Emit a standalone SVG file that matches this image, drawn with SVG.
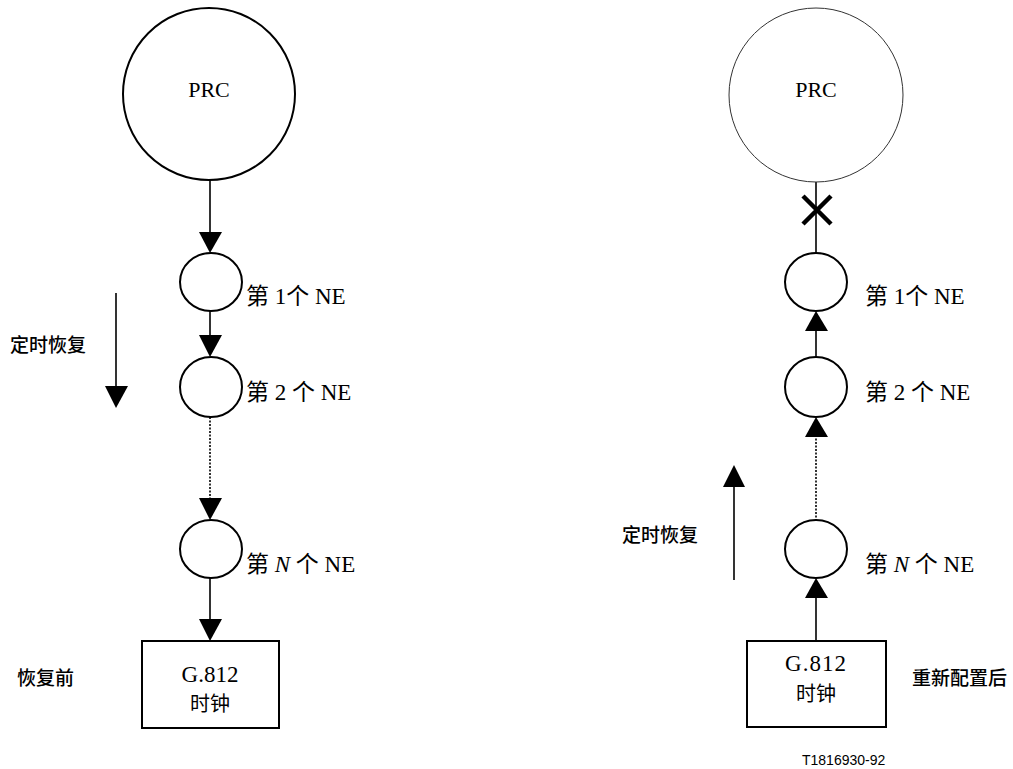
<svg xmlns="http://www.w3.org/2000/svg" width="1013" height="769" viewBox="0 0 1013 769">
<defs>
<style>
.bg{fill:#fff}
.node{fill:#fff;stroke:#000;stroke-width:2}
.thin{fill:#fff;stroke:#333;stroke-width:1}
.ln{stroke:#000;stroke-width:1.6;fill:none}
.dot{stroke:#000;stroke-width:1.6;fill:none;stroke-dasharray:2,1.5}
.head{fill:#000}
.lbl{font-family:"Liberation Serif","Noto Sans CJK SC",serif;font-size:23px;fill:#000}
.prc{font-family:"Liberation Serif",serif;font-size:22px;fill:#000}
.cn{font-family:"Noto Sans CJK SC","Liberation Sans",sans-serif;font-size:19px;fill:#000;font-weight:500}
.cnb{font-family:"Noto Sans CJK SC","Liberation Sans",sans-serif;font-size:20px;fill:#000}
.sm{font-family:"Liberation Sans",sans-serif;font-size:14px;fill:#000}
</style>
</defs>
<rect class="bg" x="0" y="0" width="1013" height="769"/>

<g id="connectors">
  <!-- left chain -->
  <line class="ln" x1="210" y1="178" x2="210" y2="235"/>
  <polygon class="head" points="199,232 222,232 210,253"/>
  <line class="ln" x1="210" y1="311" x2="210" y2="338"/>
  <polygon class="head" points="199,335 222,335 210,357"/>
  <line class="dot" x1="210" y1="417" x2="210" y2="500"/>
  <polygon class="head" points="199,498 222,498 210,520"/>
  <line class="ln" x1="210" y1="578" x2="210" y2="622"/>
  <polygon class="head" points="199,619 222,619 210,641"/>
  <!-- left timing arrow -->
  <line class="ln" x1="116" y1="293" x2="116" y2="390"/>
  <polygon class="head" points="105,386 128,386 116,408"/>
  <!-- right chain -->
  <line class="ln" x1="816" y1="182" x2="816" y2="253"/>
  <path d="M803,196 L831,224 M831,196 L803,224" stroke="#000" stroke-width="4.5" fill="none"/>
  <line class="ln" x1="816" y1="328" x2="816" y2="357"/>
  <polygon class="head" points="805,331 828,331 816,311"/>
  <line class="dot" x1="816" y1="435" x2="816" y2="520"/>
  <polygon class="head" points="805,437 828,437 816,417"/>
  <line class="ln" x1="816" y1="595" x2="816" y2="641"/>
  <polygon class="head" points="805,598 828,598 816,578"/>
  <!-- right timing arrow -->
  <line class="ln" x1="734" y1="484" x2="734" y2="580"/>
  <polygon class="head" points="723,487 745,487 734,465"/>
</g>

<g id="left-prc">
  <circle class="node" cx="209" cy="94" r="86"/>
  <text class="prc" x="209" y="97" text-anchor="middle">PRC</text>
</g>
<g id="left-ne1">
  <ellipse class="node" cx="211" cy="282" rx="31" ry="29"/>
  <text class="lbl" x="246" y="304">第 1个 NE</text>
</g>
<g id="left-ne2">
  <ellipse class="node" cx="211" cy="387" rx="31" ry="30"/>
  <text class="lbl" x="246" y="400">第 2 个 NE</text>
</g>
<g id="left-neN">
  <ellipse class="node" cx="211" cy="549" rx="31" ry="29"/>
  <text class="lbl" x="246" y="572">第 <tspan font-style="italic">N</tspan> 个 NE</text>
</g>
<g id="left-clock">
  <rect class="node" x="142" y="641" width="137" height="87"/>
  <text class="lbl" x="210" y="682" text-anchor="middle">G.812</text>
  <text class="cnb" x="210" y="711" text-anchor="middle">时钟</text>
</g>
<g id="left-labels">
  <text class="cn" x="10" y="352">定时恢复</text>
  <text class="cn" x="17" y="685">恢复前</text>
</g>

<g id="right-prc">
  <circle class="thin" cx="816" cy="95" r="87"/>
  <text class="prc" x="816" y="97" text-anchor="middle">PRC</text>
</g>
<g id="right-ne1">
  <ellipse class="node" cx="816" cy="282" rx="31" ry="29"/>
  <text class="lbl" x="865" y="304">第 1个 NE</text>
</g>
<g id="right-ne2">
  <ellipse class="node" cx="816" cy="387" rx="31" ry="30"/>
  <text class="lbl" x="865" y="400">第 2 个 NE</text>
</g>
<g id="right-neN">
  <ellipse class="node" cx="816" cy="549" rx="31" ry="29"/>
  <text class="lbl" x="865" y="572">第 <tspan font-style="italic">N</tspan> 个 NE</text>
</g>
<g id="right-clock">
  <rect class="node" x="747" y="641" width="139" height="86"/>
  <text class="lbl" x="816" y="671" text-anchor="middle" letter-spacing="1">G.812</text>
  <text class="cnb" x="816" y="701" text-anchor="middle">时钟</text>
</g>
<g id="right-labels">
  <text class="cn" x="622" y="542">定时恢复</text>
  <text class="cn" x="912" y="685">重新配置后</text>
  <text class="sm" x="802" y="765">T1816930-92</text>
</g>
</svg>
